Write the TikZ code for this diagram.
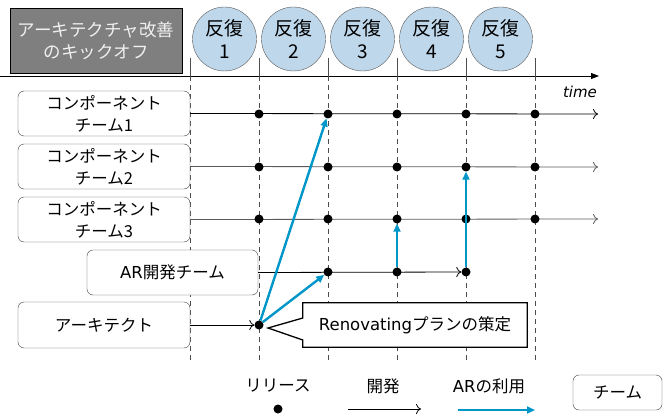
\documentclass[tikz,border=0pt]{standalone}
\usepackage{fontspec}
\setmainfont{Noto Sans CJK JP}
\newfontfamily\lat{DejaVu Sans}
\usetikzlibrary{arrows.meta,calc}
\definecolor{arblue}{RGB}{0,150,200}
\definecolor{iterblue}{RGB}{190,215,235}
\definecolor{headgray}{RGB}{127,127,127}
\definecolor{headtext}{RGB}{240,240,240}
\definecolor{linegray}{RGB}{90,90,90}
\tikzset{
 teambox/.style={draw=black!75, rounded corners=6pt, minimum width=172pt, minimum height=45pt, inner sep=0pt, align=center, font=\fontsize{16.5}{22}\selectfont},
 iter/.style={circle, draw=black!65, fill=iterblue, minimum size=64pt, inner sep=0pt, align=center, font=\fontsize{19}{23}\selectfont},
 rel/.style={circle, fill=black, minimum size=9pt, inner sep=0pt},
 dev/.style={-{To[length=5pt,width=10pt]}, line width=0.8pt},
 use/.style={-{Triangle[length=8pt,width=7pt]}, draw=arblue, line width=2.4pt},
 vtick/.style={draw=black!70, line width=0.9pt},
 vdash/.style={draw=black!70, line width=0.9pt, dash pattern=on 5pt off 4pt},
 lbl/.style={font=\fontsize{16.5}{20}\selectfont, inner sep=0pt},
}
\begin{document}
\begin{tikzpicture}[x=1pt,y=-1pt]
\useasboundingbox (0,0) rectangle (668,414);

% heading
\node[draw=black, fill=headgray, text=headtext, minimum width=172pt, minimum height=65pt, inner sep=0pt, align=center, font=\fontsize{17.5}{22}\selectfont] (head) at (96,40.5) {アーキテクチャ改善\\のキックオフ};

% iterations
\foreach \i in {1,...,5} {
  \node[iter] (it\i) at ({224.5+69*(\i-1)},39) {反復\\\i};
}

% time axis
\coordinate (ax0) at (0,76);
\coordinate (ax1) at (599,76);
\draw[line width=0.9pt, -{Triangle[length=8pt,width=6pt]}] (ax0) -- (ax1);
\node[font=\lat\itshape\fontsize{15}{18}\selectfont, inner sep=0pt] (time) at (580,92) {time};

% vertical lines
\foreach \x [count=\i from 0] in {190,259,328,397,466,535} {
  \coordinate (vt\i) at (\x,58);
  \coordinate (va\i) at (\x,76);
  \coordinate (vb\i) at (\x,360);
  \draw[vtick] (vt\i) -- (va\i);
  \draw[vdash] (va\i) -- (vb\i);
}

% team boxes
\node[teambox, fill=white] (t1) at (104,113.5) {コンポーネント\\チーム1};
\node[teambox, fill=white] (t2) at (104,166.5) {コンポーネント\\チーム2};
\node[teambox, fill=white] (t3) at (104,219.5) {コンポーネント\\チーム3};
\node[teambox, fill=white, minimum width=171pt] (ar) at (172.5,272.5) {{\lat AR}開発チーム};
\node[teambox, fill=white, minimum height=46pt] (arch) at (104,325) {アーキテクト};

% team row lines
\coordinate (e1) at (598,114);
\coordinate (e2) at (598,167);
\coordinate (e3) at (598,219);
\draw[dev, draw=black] (t1.east) -- (e1);
\draw[dev, draw=linegray] (t2.east) -- (e2);
\draw[dev, draw=linegray] (t3.east) -- (e3);

% release dots
\foreach \r/\y in {1/114,2/167,3/219} {
  \foreach \x [count=\c] in {259,328,397,466,535} {
    \node[rel] (d\r-\c) at (\x,\y) {};
  }
}
\node[rel] (a2) at (328,272) {};
\node[rel] (a3) at (397,272) {};
\node[rel] (a4) at (466,272) {};
\node[rel] (p1) at (259,325) {};

\draw[dev] (ar.east) -- (a4);
\draw[dev] (arch.east) -- (p1);

% AR usage arrows
\draw[use] (p1) -- (d1-2);
\draw[use] (p1) -- (a2);
\draw[use] (a3) -- (d3-3);
\draw[use] (a4) -- (d2-4);

% callout
\node[minimum width=224pt, minimum height=44pt, inner sep=0pt, font=\fontsize{16.5}{20}\selectfont] (plan) at (415,325) {{\lat Renovating}プランの策定};
\coordinate (tip) at (268,328);
\draw[line width=1.3pt, fill=white] (plan.north west) -- (plan.north east) -- (plan.south east) -- (plan.south west) -- ($(plan.west)+(0,15)$) -- (tip) -- ($(plan.west)+(0,-7)$) -- cycle;
\node[inner sep=0pt, font=\fontsize{16.5}{20}\selectfont] at (plan.center) {{\lat Renovating}プランの策定};

% legend
\node[lbl] (lrel) at (278,386) {リリース};
\node[rel] (ldot) at (278,409) {};
\node[lbl] (ldev) at (383,386) {開発};
\coordinate (ld0) at (348,409);
\coordinate (ld1) at (421,409);
\draw[dev] (ld0) -- (ld1);
\node[lbl] (luse) at (489,386) {{\lat AR}の利用};
\coordinate (lu0) at (458,410);
\coordinate (lu1) at (535,410);
\draw[use] (lu0) -- (lu1);
\node[teambox, minimum width=89pt, minimum height=35pt] (lteam) at (617.5,392.5) {チーム};
\end{tikzpicture}
\end{document}
